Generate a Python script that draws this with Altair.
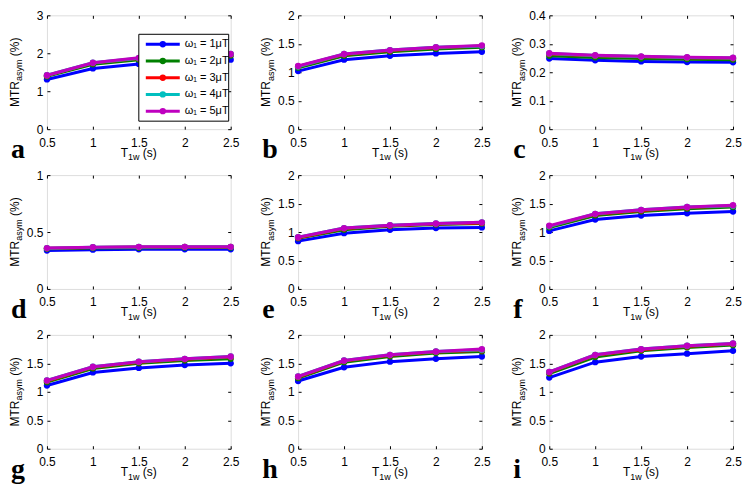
import altair as alt
import pandas as pd

# ---------------- data ----------------
T_VALUES = [0.5, 1.0, 1.5, 2.0, 2.5]
X_TICKS = [0.5, 1, 1.5, 2, 2.5]
SERIES = ["ω₁ = 1μT", "ω₁ = 2μT", "ω₁ = 3μT", "ω₁ = 4μT", "ω₁ = 5μT"]
COLORS = ["#0000ff", "#008000", "#ff0000", "#00bfbf", "#bf00bf"]
LETTERS = ["a", "b", "c", "d", "e", "f", "g", "h", "i"]

Y_MAX = [3, 2, 0.4, 1, 2, 2, 2, 2, 2]
Y_TICKS_A = [0, 1, 2, 3]
Y_TICKS_C = [0, 0.1, 0.2, 0.3, 0.4]
Y_TICKS_D = [0, 0.5, 1]
Y_TICKS_2 = [0, 0.5, 1, 1.5, 2]

A = [[1.31, 1.60, 1.72, 1.79, 1.83],
     [1.39, 1.71, 1.83, 1.90, 1.94],
     [1.41, 1.74, 1.86, 1.93, 1.97],
     [1.42, 1.75, 1.87, 1.94, 1.98],
     [1.42, 1.75, 1.88, 1.94, 1.98]]
B = [[1.02, 1.22, 1.29, 1.33, 1.36],
     [1.08, 1.29, 1.36, 1.41, 1.44],
     [1.10, 1.31, 1.38, 1.43, 1.46],
     [1.10, 1.32, 1.39, 1.44, 1.46],
     [1.11, 1.32, 1.39, 1.44, 1.47]]
C = [[0.248, 0.242, 0.238, 0.236, 0.235],
     [0.258, 0.252, 0.248, 0.246, 0.244],
     [0.264, 0.258, 0.254, 0.251, 0.249],
     [0.266, 0.259, 0.255, 0.252, 0.250],
     [0.267, 0.260, 0.256, 0.253, 0.251]]
D = [[0.337, 0.345, 0.348, 0.348, 0.348],
     [0.352, 0.359, 0.362, 0.363, 0.363],
     [0.357, 0.365, 0.368, 0.369, 0.369],
     [0.358, 0.366, 0.369, 0.370, 0.370],
     [0.359, 0.367, 0.370, 0.370, 0.370]]
E = [[0.84, 0.98, 1.04, 1.07, 1.08],
     [0.89, 1.04, 1.10, 1.13, 1.15],
     [0.90, 1.06, 1.11, 1.14, 1.16],
     [0.91, 1.07, 1.12, 1.15, 1.17],
     [0.91, 1.07, 1.12, 1.15, 1.17]]
F = [[1.02, 1.22, 1.29, 1.33, 1.36],
     [1.08, 1.29, 1.36, 1.41, 1.44],
     [1.10, 1.31, 1.38, 1.43, 1.46],
     [1.10, 1.32, 1.39, 1.44, 1.46],
     [1.11, 1.32, 1.39, 1.44, 1.47]]
G = [[1.11, 1.34, 1.42, 1.47, 1.50],
     [1.17, 1.41, 1.50, 1.55, 1.58],
     [1.19, 1.43, 1.52, 1.57, 1.61],
     [1.20, 1.44, 1.53, 1.58, 1.62],
     [1.20, 1.44, 1.53, 1.58, 1.62]]
H_ = [[1.19, 1.43, 1.53, 1.58, 1.62],
      [1.24, 1.52, 1.62, 1.68, 1.71],
      [1.26, 1.54, 1.64, 1.70, 1.73],
      [1.27, 1.55, 1.65, 1.71, 1.74],
      [1.27, 1.55, 1.65, 1.71, 1.75]]
I = [[1.25, 1.52, 1.62, 1.67, 1.72],
     [1.32, 1.61, 1.72, 1.78, 1.82],
     [1.34, 1.64, 1.74, 1.80, 1.84],
     [1.35, 1.65, 1.75, 1.81, 1.85],
     [1.35, 1.65, 1.75, 1.81, 1.85]]

PANEL_VALUES = [A, B, C, D, E, F, G, H_, I]
PANEL_YTICKS = [Y_TICKS_A, Y_TICKS_2, Y_TICKS_C, Y_TICKS_D,
                Y_TICKS_2, Y_TICKS_2, Y_TICKS_2, Y_TICKS_2, Y_TICKS_2]

rows = []
for letter, vals in zip(LETTERS, PANEL_VALUES):
    for s, series_vals in zip(SERIES, vals):
        for t, v in zip(T_VALUES, series_vals):
            rows.append({"panel": letter, "series": s, "t": t, "v": v})
df = pd.DataFrame(rows)

# ---------------- layout / style ----------------
W, H = 184, 114
FONT = "Liberation Sans"
SERIF = "Liberation Serif"

one = alt.Chart(pd.DataFrame({"k": [0]}))


def txt(text, x, y, size, angle=0, font=FONT, weight="normal"):
    return one.mark_text(text=text, align="left", baseline="alphabetic",
                         angle=angle, font=font, fontSize=size,
                         fontWeight=weight, color="black").encode(
        x=alt.value(x), y=alt.value(y))


def make_panel(letter, ymax, yticks, legend=False):
    base = alt.Chart(df).transform_filter(alt.datum.panel == letter)
    xs = alt.Scale(domain=[0.5, 2.5], nice=False, zero=False)
    ys = alt.Scale(domain=[0, ymax], nice=False, zero=False)
    lab = dict(format="~g", ticks=False, tickSize=0, domain=False, grid=False,
               title=None, labelFont=FONT, labelFontSize=12,
               labelColor="black", labelFlush=False, labelOverlap=False)
    tck = dict(labels=False, domain=False, grid=False, tickSize=3,
               tickColor="black", tickWidth=1, title=None)
    layers = []
    # labelled axes (invisible points)
    layers.append(base.mark_point(opacity=0).encode(
        x=alt.X("t:Q", scale=xs, axis=alt.Axis(orient="bottom", values=X_TICKS,
                                               labelPadding=8, **lab)),
        y=alt.Y("v:Q", scale=ys, axis=alt.Axis(orient="left", values=yticks,
                                               labelPadding=4, **lab))))
    # inward ticks at bottom & left
    layers.append(base.mark_point(opacity=0).encode(
        x=alt.X("t:Q", scale=xs, axis=alt.Axis(orient="top", offset=-H, values=X_TICKS, **tck)),
        y=alt.Y("v:Q", scale=ys, axis=alt.Axis(orient="right", offset=-W, values=yticks, **tck))))
    # inward ticks at top & right
    layers.append(base.mark_point(opacity=0).encode(
        x=alt.X("t:Q", scale=xs, axis=alt.Axis(orient="bottom", offset=-H, values=X_TICKS, **tck)),
        y=alt.Y("v:Q", scale=ys, axis=alt.Axis(orient="left", offset=-W, values=yticks, **tck))))
    # data series
    for s, c in zip(SERIES, COLORS):
        sb = base.transform_filter(alt.datum.series == s)
        enc = dict(x=alt.X("t:Q", scale=xs, axis=None),
                   y=alt.Y("v:Q", scale=ys, axis=None))
        layers.append(sb.mark_line(color=c, strokeWidth=3).encode(**enc))
        layers.append(sb.mark_circle(color=c, size=40, opacity=1).encode(**enc))
    # y title  MTR_asym (%)
    y0 = H / 2 + 69.5 / 2
    layers.append(txt("MTR", -28, y0, 12, angle=270))
    layers.append(txt("asym", -24.5, y0 - 26.0, 9, angle=270))
    layers.append(txt("(%)", -28, y0 - 50.8, 12, angle=270))
    # x title  T_1w (s)
    x0 = W / 2 - 18.1
    layers.append(txt("T", x0, H + 27.5, 12))
    layers.append(txt("1w", x0 + 7.3, H + 31, 9))
    layers.append(txt("(s)", x0 + 22.1, H + 27.5, 12))
    # panel letter
    layers.append(txt(letter, -36, H + 29, 28, font=SERIF, weight="bold"))

    if legend:
        bx0, bx1, by0, by1 = W - 92, W - 2, 19, H - 8
        leg = alt.Chart(pd.DataFrame({"series": SERIES}))
        ly = alt.Y("series:N", axis=None,
                   scale=alt.Scale(type="point", domain=SERIES,
                                   range=[by0 + 10, by1 - 10], padding=0))
        lc = alt.Color("series:N", legend=None,
                       scale=alt.Scale(domain=SERIES, range=COLORS))
        layers.append(one.mark_rect(fill="white", stroke="black", strokeWidth=1).encode(
            x=alt.value(bx0), x2=alt.value(bx1), y=alt.value(by0), y2=alt.value(by1)))
        layers.append(leg.mark_rule(strokeWidth=3).encode(
            x=alt.value(bx0 + 7), x2=alt.value(bx0 + 41), y=ly, color=lc))
        layers.append(leg.mark_circle(size=40, opacity=1).encode(
            x=alt.value(bx0 + 24), y=ly, color=lc))
        layers.append(leg.mark_text(align="left", baseline="middle", font=FONT,
                                    fontSize=11, color="black").encode(
            x=alt.value(bx0 + 46), y=ly, text="series:N"))

    return alt.layer(*layers).resolve_scale(y="independent").resolve_axis(
        x="independent", y="independent").properties(width=W, height=H)


panels = [make_panel(l, m, t, legend=(l == "a"))
          for l, m, t in zip(LETTERS, Y_MAX, PANEL_YTICKS)]

chart = alt.concat(*panels, columns=3, spacing={"row": 46, "column": 67.5},
                   bounds="flush").properties(
    padding={"left": 0, "top": 0, "right": 0, "bottom": 0}
).configure_view(stroke="black", strokeWidth=1).configure(background="white")

chart.save("out.html", embed_options={"renderer": "svg", "actions": False})
